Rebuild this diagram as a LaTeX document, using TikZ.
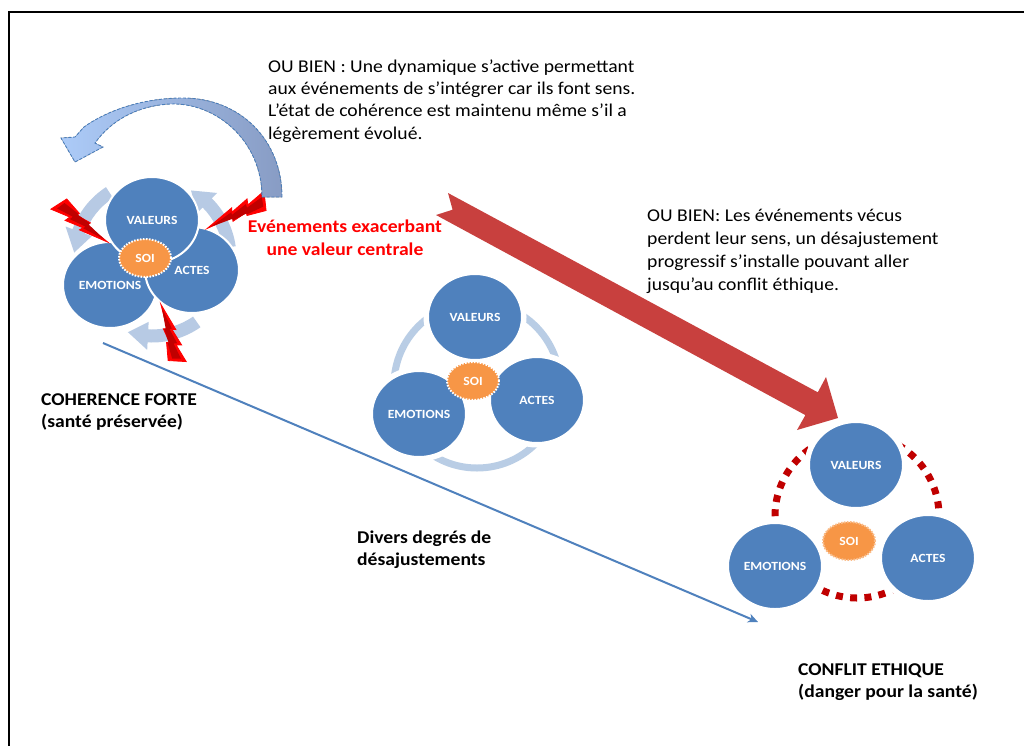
\documentclass[tikz,border=0pt]{standalone}
\usepackage{fontspec}
\setmainfont{Carlito}[FakeStretch=1.09]
\usetikzlibrary{shapes.geometric,arrows.meta,calc}
\definecolor{circblue}{RGB}{79,129,189}
\definecolor{ringblue}{RGB}{185,205,229}
\definecolor{cycblue}{RGB}{183,202,228}
\definecolor{soiorange}{RGB}{247,150,70}
\definecolor{ringred}{RGB}{192,0,0}
\definecolor{bigred}{RGB}{200,64,62}
\definecolor{curvL}{RGB}{172,203,248}
\definecolor{curvR}{RGB}{136,156,196}
\definecolor{curvedge}{RGB}{74,126,187}
\definecolor{lineblue}{RGB}{79,129,189}
\definecolor{boltdark}{RGB}{192,0,0}
\tikzset{
  circ/.style={ellipse, fill=circblue, draw=white, line width=2pt,
    minimum width=94pt, minimum height=86pt, inner sep=0pt, text=white,
    font=\fontsize{12.5}{14}\selectfont\bfseries},
  halo/.style={preaction={draw=white, line width=9pt}},
  soi/.style={ellipse, fill=soiorange, draw=white, line width=2pt,
    dash pattern=on 1.6pt off 1.4pt, minimum width=52pt, minimum height=38pt,
    inner sep=0pt, text=white, font=\fontsize{12.5}{14}\selectfont\bfseries},
  cycfill/.style={fill=cycblue},
  boltstyle/.style={fill=red, draw=red, line width=0.8pt, line join=miter},
  boltinner/.style={fill=boltdark},
  body/.style={font=\fontsize{18}{22.3}\selectfont, align=left, inner sep=0pt, anchor=base west},
  bodyb/.style={font=\fontsize{18}{22.7}\selectfont, align=left, inner sep=0pt, anchor=base west},
  boldtxt/.style={font=\fontsize{18}{22}\selectfont\bfseries, align=left, inner sep=0pt, anchor=base west},
  redtxt/.style={font=\fontsize{18}{23}\selectfont\bfseries, text=red, align=center, inner sep=0pt, anchor=base},
}
\newcommand{\boltpath}{(0.0486,-0.1678) -- (-0.0522,0.1739) -- (0.2675,0.0701) -- (0.2401,0.1768) -- (0.5418,0.0755) -- (0.5169,0.15) -- (1,0) -- (0.5681,-0.0115) -- (0.5881,-0.0859) -- (0.3407,-0.0424) -- (0.3511,-0.0993) -- cycle}
\newcommand{\boltinnerpath}{(0.06,-0.08) -- (0.02,0.09) -- (0.30,0.03) -- (0.29,0.10) -- (0.56,0.03) -- (0.55,0.08) -- (0.93,0.0) -- (0.58,-0.04) -- (0.58,-0.07) -- (0.34,-0.06) -- (0.34,-0.08) -- cycle}
\begin{document}
\begin{tikzpicture}[x=1pt,y=-1pt]
\useasboundingbox (0,0) rectangle (1024,745);
\clip (0,0) rectangle (1024,745);
\fill[white] (0,0) rectangle (1024,745);
% frame
\draw[black, line width=2pt] (9,12) rectangle (1040,760);

% ---------- top-left cluster : cycle arrows ----------
\coordinate (c1) at (152,258);
\fill[cycfill] ($(c1)+(-123:84.5)$) arc[start angle=-123, end angle=-160, radius=84.5]
  -- ($(c1)+(-160:92)$) -- ($(c1)+(-176:78)$) -- ($(c1)+(-160:64)$)
  -- ($(c1)+(-160:71.5)$) arc[start angle=-160, end angle=-123, radius=71.5] -- cycle;
\fill[cycfill] ($(c1)+(-8:84.5)$) arc[start angle=-8, end angle=-45, radius=84.5]
  -- ($(c1)+(-45:92)$) -- ($(c1)+(-60:78)$) -- ($(c1)+(-45:64)$)
  -- ($(c1)+(-45:71.5)$) arc[start angle=-45, end angle=-8, radius=71.5] -- cycle;
\fill[cycfill] ($(c1)+(55:84.5)$) arc[start angle=55, end angle=93, radius=84.5]
  -- ($(c1)+(93:92)$) -- ($(c1)+(108:78)$) -- ($(c1)+(93:64)$)
  -- ($(c1)+(93:71.5)$) arc[start angle=93, end angle=55, radius=71.5] -- cycle;

% circles
\node[circ] (emo1) at (110,285) {EMOTIONS};
\node[circ] (act1) at (192,270) {ACTES};
\node[circ] (val1) at (152,220) {VALEURS};
\node[soi] (soi1) at (145,258) {SOI};

% lightning bolts
\begin{scope}[shift={(59,204)}, rotate=-38, xscale=62, yscale=52]
  \filldraw[boltstyle] \boltpath;
  \fill[boltinner] \boltinnerpath;
\end{scope}
\begin{scope}[shift={(265,201)}, rotate=-154.6, xscale=64, yscale=54]
  \filldraw[boltstyle] \boltpath;
  \fill[boltinner] \boltinnerpath;
\end{scope}
\begin{scope}[shift={(177,361)}, rotate=105.9, xscale=59, yscale=50]
  \filldraw[boltstyle] \boltpath;
  \fill[boltinner] \boltinnerpath;
\end{scope}

% big curved arrow (top-left)
\filldraw[left color=curvL, right color=curvR, draw=curvedge, line width=0.9pt, dash pattern=on 3pt off 1.8pt]
  (282,197) .. controls (282,140) and (240,98) .. (183,98)
  .. controls (140,98) and (105,112) .. (84,127)
  -- (75,137) -- (61,138) -- (75,162) -- (103,147) -- (95,143)
  .. controls (110,122) and (135,106) .. (170,104)
  .. controls (215,102) and (262,140) .. (262,197) -- cycle;

% ---------- middle cluster ----------
\draw[ringblue, line width=7pt] (477,385) circle[radius=83];
\node[circ, halo] (val2) at (475,317) {VALEURS};
\node[circ, halo] (emo2) at (419,414) {EMOTIONS};
\node[circ, halo] (act2) at (537,400) {ACTES};
\node[soi] (soi2) at (473,381) {SOI};

% ---------- right cluster ----------
\draw[ringred, line width=7pt, dash pattern=on 7pt off 7.3pt] (857,516) circle[radius=82];
\node[circ, halo] (val3) at (856,465) {VALEURS};
\node[circ, halo] (emo3) at (775,566) {EMOTIONS};
\node[circ, halo] (act3) at (928,558) {ACTES};
\node[soi, draw=soiorange!65!white] (soi3) at (849,541) {SOI};

% ---------- big red arrow ----------
\fill[bigred] (448,193) -- (452.6,209.7) -- (436,215) -- (805.4,415.1) -- (797,430)
  -- (838,418) -- (826,377) -- (817.8,392.3) -- cycle;

% ---------- blue diagonal arrow ----------
\coordinate (ls) at (103,343);
\coordinate (le) at (758,622);
\draw[lineblue, line width=2pt, -{Stealth[length=10pt, width=9pt, inset=3pt]}] (ls) -- (le);

% ---------- texts ----------
\node[body] (t1) at (268,139) {OU BIEN : Une dynamique s’active permettant\\aux événements de s’intégrer car ils font sens.\\L’état de cohérence est maintenu même s’il a\\légèrement évolué.};
\node[redtxt] (t2) at (345,255) {Evénements exacerbant\\une valeur centrale};
\node[bodyb] (t3) at (647,290) {OU BIEN: Les événements vécus\\perdent leur sens, un désajustement\\progressif s’installe pouvant aller\\jusqu’au conflit éthique.};
\node[boldtxt] (t4) at (41,427) {COHERENCE FORTE\\(santé préservée)};
\node[boldtxt] (t5) at (357,565) {Divers degrés de\\désajustements};
\node[boldtxt] (t6) at (798,697) {CONFLIT ETHIQUE\\(danger pour la santé)};
\end{tikzpicture}
\end{document}
